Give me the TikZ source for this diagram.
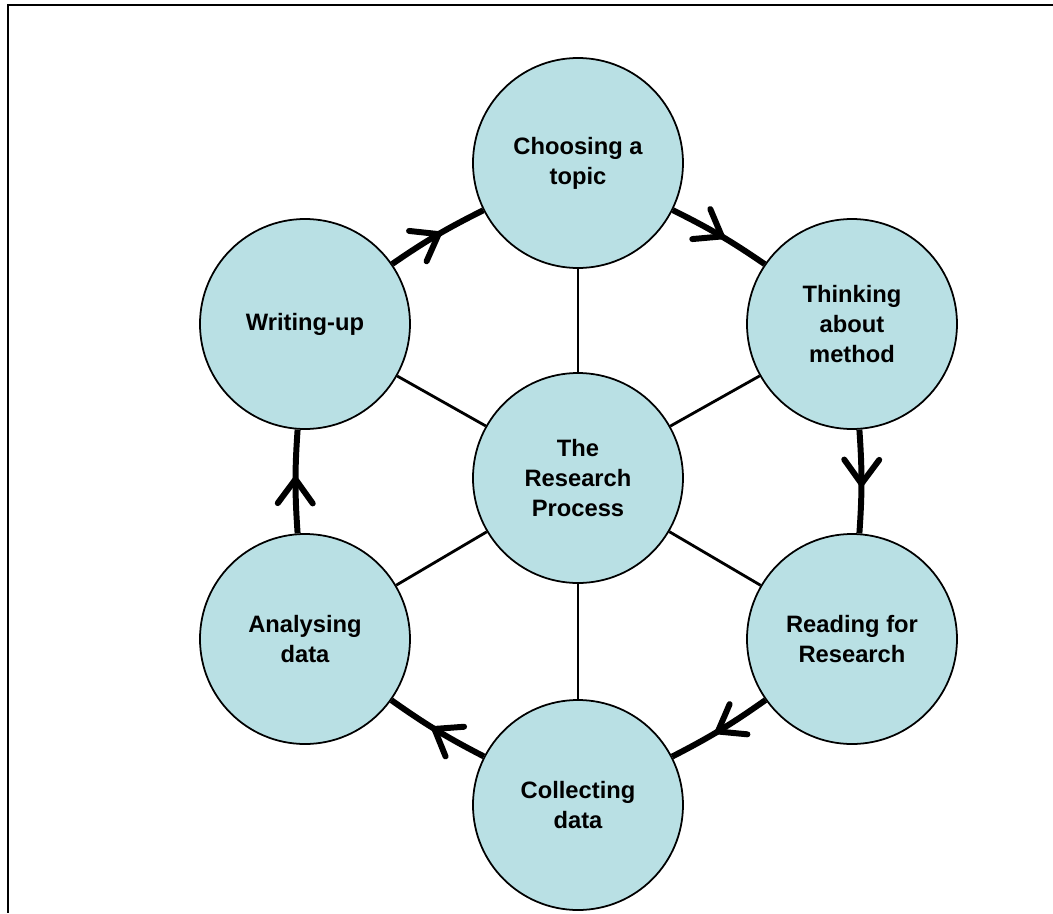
\documentclass[tikz,border=0pt]{standalone}
\usepackage{fontspec}
\setmainfont{Liberation Sans}
\usetikzlibrary{arrows.meta,decorations.markings}
\definecolor{paleteal}{RGB}{185,224,228}

\begin{document}
\begin{tikzpicture}[
    roundnode/.style={circle, draw=black, fill=paleteal, line width=1pt, minimum size=4.2cm, inner sep=1pt, align=center, font=\fontsize{13.5}{17}\selectfont\bfseries},
    spoke/.style={line width=1.6pt},
    flowarrow/.style={line width=3.4pt, postaction={decorate}, decoration={markings, mark=at position 0.55 with {\arrow{Straight Barb[length=4.8mm,width=7mm,round]}}}}
    ]

    \useasboundingbox (-11.56,-8.7) rectangle (9.5,9.56);
    \draw [line width=1.2pt] (9.5,9.46) -- (-11.40,9.46) -- (-11.40,-8.7);

     \node [roundnode] (rp) at (0, 0) {The\\Research\\Process};

     \node [roundnode] (n1) at (0, 6.3)      {Choosing a\\topic};
     \node [roundnode] (n2) at (5.48, 3.08)  {Thinking\\about\\method};
     \node [roundnode] (n3) at (5.48, -3.22) {Reading for\\Research};
     \node [roundnode] (n4) at (0, -6.54)    {Collecting\\data};
     \node [roundnode] (n5) at (-5.46, -3.22) {Analysing\\data};
     \node [roundnode] (n6) at (-5.46, 3.08)  {Writing-up};

    \draw [spoke] (rp) -- (n1);
    \draw [spoke] (rp) -- (n2);
    \draw [spoke] (rp) -- (n3);
    \draw [spoke] (rp) -- (n4);
    \draw [spoke] (rp) -- (n5);
    \draw [spoke] (rp) -- (n6);

    \draw [flowarrow] (n6) to[bend left=4] (n1);
    \draw [flowarrow] (n1) to[bend left=4] (n2);
    \draw [flowarrow] (n2) to[bend left=4] (n3);
    \draw [flowarrow] (n3) to[bend left=4] (n4);
    \draw [flowarrow] (n4) to[bend left=4] (n5);
    \draw [flowarrow] (n5) to[bend left=4] (n6);

  \end{tikzpicture}
\end{document}
